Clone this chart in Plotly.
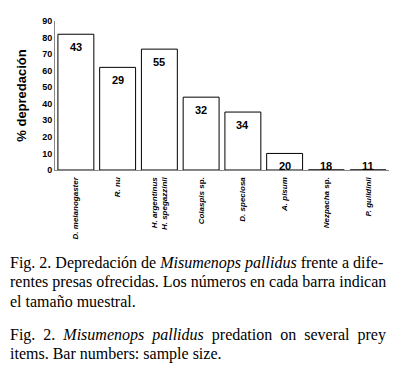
import plotly.graph_objects as go

categories = ["<b><i>D. melanogaster</i></b>", "<b><i>R. nu</i></b>", "<b><i>H. argentinus</i><br><i>H. spegazzinii</i></b>",
              "<b><i>Colaspis</i> sp.</b>", "<b><i>D. speciosa</i></b>", "<b><i>A. pisum</i></b>", "<b><i>Nezpacha</i> sp.</b>", "<b><i>P. guildinii</i></b>"]
predation = [82, 62, 73, 44, 35, 10, 0, 0]
sample_size = [43, 29, 55, 32, 34, 20, 18, 11]
yticks = [0, 10, 20, 30, 40, 50, 60, 70, 80, 90]

caption_es = ["Fig. 2. Depredación de <i>Misumenops pallidus</i> frente a dife-",
              "rentes presas ofrecidas. Los números en cada barra indican",
              "el tamaño muestral."]
caption_en = ["Fig.&nbsp; 2.&nbsp; <i>Misumenops&nbsp; pallidus</i>&nbsp; predation&nbsp; on&nbsp; several&nbsp; prey",
              "items. Bar numbers: sample size."]

sans = "Liberation Sans"
serif = "Liberation Serif"

W, H = 414, 377
L, R, T, B = 55, 25, 21, 207
PW, PH = W - L - R, H - T - B

fig = go.Figure()
fig.add_trace(go.Bar(
    x=list(range(len(categories))), y=predation,
    marker=dict(color="white", line=dict(color="black", width=1)),
    width=0.86, hoverinfo="skip",
))

for i, (v, n) in enumerate(zip(predation, sample_size)):
    fig.add_annotation(x=i, y=max(v, 10), text=f"<b>{n}</b>", showarrow=False,
                       xref="x", yref="y", yanchor="top", yshift=-5,
                       font=dict(family=sans, size=11, color="black"))

fig.update_layout(
    width=W, height=H,
    margin=dict(l=L, r=R, t=T, b=B, autoexpand=False),
    paper_bgcolor="white", plot_bgcolor="white",
    showlegend=False,
    xaxis=dict(range=[-0.5, 7.5], tickvals=list(range(len(categories))), ticktext=categories,
               tickangle=-90, tickfont=dict(family=sans, size=8, color="black"),
               showline=True, linecolor="#888", linewidth=1, showgrid=False, zeroline=False,
               ticks="outside", ticklen=3, tickcolor="white", automargin=False),
    yaxis=dict(range=[0, 90], tickvals=yticks, ticktext=[f"<b>{t}</b>" for t in yticks],
               tickfont=dict(family=sans, size=9, color="black"),
               showline=True, linecolor="#888", linewidth=1, showgrid=False, zeroline=False,
               ticks="", automargin=False,
               title=dict(text="<b>% depredación</b>", font=dict(family=sans, size=13, color="black"),
                          standoff=12)),
)

def px(xx):
    return (xx - L) / PW

def py(yy):
    return (H - B - yy) / PH

for line, yy in zip(caption_es, [263, 282, 301]):
    fig.add_annotation(x=px(8), y=py(yy), xref="paper", yref="paper", text=line, showarrow=False,
                       xanchor="left", yanchor="middle", font=dict(family=serif, size=16, color="black"))
for line, yy in zip(caption_en, [335, 354]):
    fig.add_annotation(x=px(8), y=py(yy), xref="paper", yref="paper", text=line, showarrow=False,
                       xanchor="left", yanchor="middle", font=dict(family=serif, size=16, color="black"))

fig.write_html("out.html", config={"displayModeBar": False},
               post_script="document.body.style.margin='0';")
